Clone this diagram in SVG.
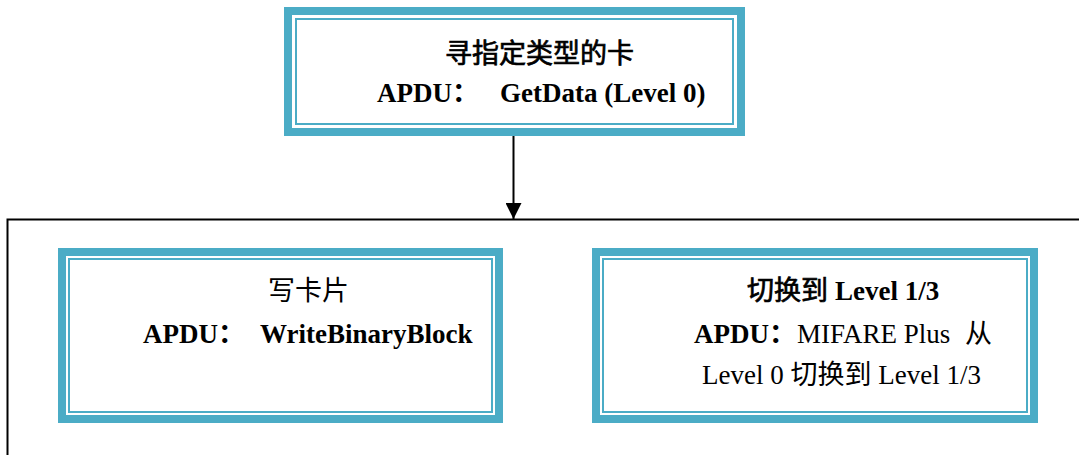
<svg xmlns="http://www.w3.org/2000/svg" width="1079" height="455" viewBox="0 0 1079 455">
  <defs>
    <style>
      .frame { fill: #4BACC6; }
      .pane { fill: #FFFFFF; }
      .rule { fill: none; stroke: #4BACC6; stroke-width: 2; }
      .t { font-family: "Liberation Serif", "Noto Sans CJK SC", serif; font-size: 27px; fill: #000000; }
      .b { font-weight: bold; }
      .cjkb { font-weight: normal; stroke: #000000; stroke-width: 0.7; }
      .wire { fill: none; stroke: #000000; stroke-width: 2; }
    </style>
    <marker id="arrow" markerUnits="userSpaceOnUse" markerWidth="16" markerHeight="16" refX="16" refY="8" orient="auto">
      <path d="M0,0 L16,8 L0,16 Z" fill="#000000"/>
    </marker>
  </defs>

  <rect width="1079" height="455" fill="#FFFFFF"/>

  <!-- connectors -->
  <g id="connectors">
    <line class="wire" x1="513.5" y1="129" x2="513.5" y2="219" marker-end="url(#arrow)"/>
    <path class="wire" d="M1080,219.5 H7.5 V456"/>
  </g>

  <!-- find card of the given type -->
  <g id="node-getdata">
    <rect class="frame" x="284" y="7" width="461" height="129"/>
    <rect class="pane" x="292" y="15" width="445" height="113"/>
    <rect class="rule" x="296" y="19" width="437" height="105"/>
    <text class="t cjkb" x="445" y="63" font-size="28">寻指定类型的卡</text>
    <text class="t b" y="102"><tspan x="377">APDU：</tspan><tspan x="500">GetData (Level 0)</tspan></text>
  </g>

  <!-- write card -->
  <g id="node-write">
    <rect class="frame" x="58" y="248" width="445" height="175"/>
    <rect class="pane" x="66" y="256" width="429" height="159"/>
    <rect class="rule" x="69" y="259" width="423" height="153"/>
    <text class="t" x="268" y="300">写卡片</text>
    <text class="t b" y="343"><tspan x="143">APDU：</tspan><tspan x="260">WriteBinaryBlock</tspan></text>
  </g>

  <!-- switch security level -->
  <g id="node-switch">
    <rect class="frame" x="592" y="248" width="446" height="175"/>
    <rect class="pane" x="600" y="256" width="430" height="159"/>
    <rect class="rule" x="603" y="259" width="424" height="153"/>
    <text class="t" y="300"><tspan class="cjkb" x="747">切换到</tspan><tspan class="b" x="835">Level 1/3</tspan></text>
    <text class="t" y="343"><tspan class="b" x="694">APDU：</tspan><tspan x="797">MIFARE Plus</tspan><tspan x="965">从</tspan></text>
    <text class="t" x="702" y="384">Level 0 切换到 Level 1/3</text>
  </g>
</svg>
